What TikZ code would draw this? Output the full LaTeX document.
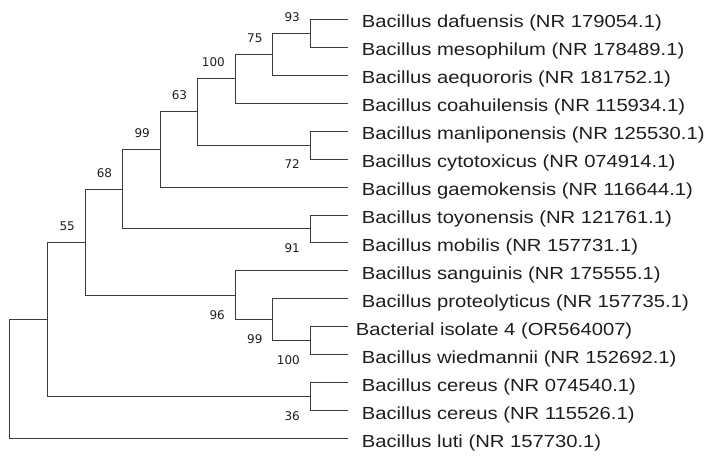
\documentclass[tikz,border=0pt]{standalone}
\usepackage{fontspec}
\setmainfont{Liberation Sans}
\newfontfamily\taxfont[FakeStretch=1.155]{Liberation Sans}
\newfontfamily\bsfont{DejaVu Sans}
\definecolor{linec}{HTML}{3C3C3C}
\definecolor{textc}{HTML}{1E1E1E}
\begin{document}
\begin{tikzpicture}[x=1pt,y=-1pt,
  branch/.style={draw=linec,line width=1pt,line cap=rect},
  taxon/.style={anchor=base west,inner sep=0pt,text=textc,font=\taxfont\fontsize{17.5}{20}\selectfont},
  bsabove/.style={anchor=base east,inner sep=0pt,text=textc,font=\bsfont\fontsize{12}{14}\selectfont},
  bsbelow/.style={anchor=base east,inner sep=0pt,text=textc,font=\bsfont\fontsize{12}{14}\selectfont}]
\useasboundingbox (0,0) rectangle (723,465);
% leaves
\coordinate (L1) at (347.7,19.3);
\coordinate (L2) at (347.7,47.26);
\coordinate (L3) at (347.7,75.22);
\coordinate (L4) at (347.7,103.18);
\coordinate (L5) at (347.7,131.14);
\coordinate (L6) at (347.7,159.1);
\coordinate (L7) at (347.7,187.06);
\coordinate (L8) at (347.7,215.02);
\coordinate (L9) at (347.7,242.98);
\coordinate (L10) at (347.7,270.94);
\coordinate (L11) at (347.7,298.9);
\coordinate (L12) at (347.7,326.86);
\coordinate (L13) at (347.7,354.82);
\coordinate (L14) at (347.7,382.78);
\coordinate (L15) at (347.7,410.74);
\coordinate (L16) at (347.7,438.7);
% internal nodes
\coordinate (A) at (310,33.28);
\coordinate (B) at (272.7,54.25);
\coordinate (C) at (235,78.72);
\coordinate (D) at (310,145.12);
\coordinate (E) at (197.3,111.92);
\coordinate (F) at (160,149.49);
\coordinate (G) at (310,229);
\coordinate (H) at (122.3,189.25);
\coordinate (I) at (310,340.84);
\coordinate (J) at (272.7,319.87);
\coordinate (K) at (235,295.4);
\coordinate (M) at (85,242.33);
\coordinate (N) at (310,396.76);
\coordinate (P) at (47,319.55);
\coordinate (R) at (9,379.1);
% branches
\draw[branch] (A) |- (L1) (A) |- (L2);
\draw[branch] (B) |- (A) (B) |- (L3);
\draw[branch] (C) |- (B) (C) |- (L4);
\draw[branch] (D) |- (L5) (D) |- (L6);
\draw[branch] (E) |- (C) (E) |- (D);
\draw[branch] (F) |- (E) (F) |- (L7);
\draw[branch] (G) |- (L8) (G) |- (L9);
\draw[branch] (H) |- (F) (H) |- (G);
\draw[branch] (I) |- (L12) (I) |- (L13);
\draw[branch] (J) |- (L11) (J) |- (I);
\draw[branch] (K) |- (L10) (K) |- (J);
\draw[branch] (M) |- (H) (M) |- (K);
\draw[branch] (N) |- (L14) (N) |- (L15);
\draw[branch] (P) |- (M) (P) |- (N);
\draw[branch] (R) |- (P) (R) |- (L16);
% taxa
\node[taxon] (T1) at ([shift={(14,8.5)}]L1) {Bacillus dafuensis (NR 179054.1)};
\node[taxon] (T2) at ([shift={(14,8.5)}]L2) {Bacillus mesophilum (NR 178489.1)};
\node[taxon] (T3) at ([shift={(14,8.5)}]L3) {Bacillus aequororis (NR 181752.1)};
\node[taxon] (T4) at ([shift={(14,8.5)}]L4) {Bacillus coahuilensis (NR 115934.1)};
\node[taxon] (T5) at ([shift={(14,8.5)}]L5) {Bacillus manliponensis (NR 125530.1)};
\node[taxon] (T6) at ([shift={(14,8.5)}]L6) {Bacillus cytotoxicus (NR 074914.1)};
\node[taxon] (T7) at ([shift={(14,8.5)}]L7) {Bacillus gaemokensis (NR 116644.1)};
\node[taxon] (T8) at ([shift={(14,8.5)}]L8) {Bacillus toyonensis (NR 121761.1)};
\node[taxon] (T9) at ([shift={(14,8.5)}]L9) {Bacillus mobilis (NR 157731.1)};
\node[taxon] (T10) at ([shift={(14,8.5)}]L10) {Bacillus sanguinis (NR 175555.1)};
\node[taxon] (T11) at ([shift={(14,8.5)}]L11) {Bacillus proteolyticus (NR 157735.1)};
\node[taxon] (T12) at ([shift={(8,8.5)}]L12) {Bacterial isolate 4 (OR564007)};
\node[taxon] (T13) at ([shift={(14,8.5)}]L13) {Bacillus wiedmannii (NR 152692.1)};
\node[taxon] (T14) at ([shift={(14,8.5)}]L14) {Bacillus cereus (NR 074540.1)};
\node[taxon] (T15) at ([shift={(14,8.5)}]L15) {Bacillus cereus (NR 115526.1)};
\node[taxon] (T16) at ([shift={(14,8.5)}]L16) {Bacillus luti (NR 157730.1)};
% bootstrap values
\node[bsabove] (bA) at ([shift={(-10,-12)}]A) {93};
\node[bsabove] (bB) at ([shift={(-10,-12)}]B) {75};
\node[bsabove] (bC) at ([shift={(-10,-12)}]C) {100};
\node[bsabove] (bE) at ([shift={(-10,-12)}]E) {63};
\node[bsabove] (bF) at ([shift={(-10,-12)}]F) {99};
\node[bsabove] (bH) at ([shift={(-10,-12)}]H) {68};
\node[bsabove] (bM) at ([shift={(-10,-12)}]M) {55};
\node[bsbelow] (bD) at ([shift={(-10,23.7)}]D) {72};
\node[bsbelow] (bG) at ([shift={(-10,23.7)}]G) {91};
\node[bsbelow] (bK) at ([shift={(-10,23.7)}]K) {96};
\node[bsbelow] (bJ) at ([shift={(-10,23.7)}]J) {99};
\node[bsbelow] (bI) at ([shift={(-10,23.7)}]I) {100};
\node[bsbelow] (bN) at ([shift={(-10,23.7)}]N) {36};
\end{tikzpicture}
\end{document}
